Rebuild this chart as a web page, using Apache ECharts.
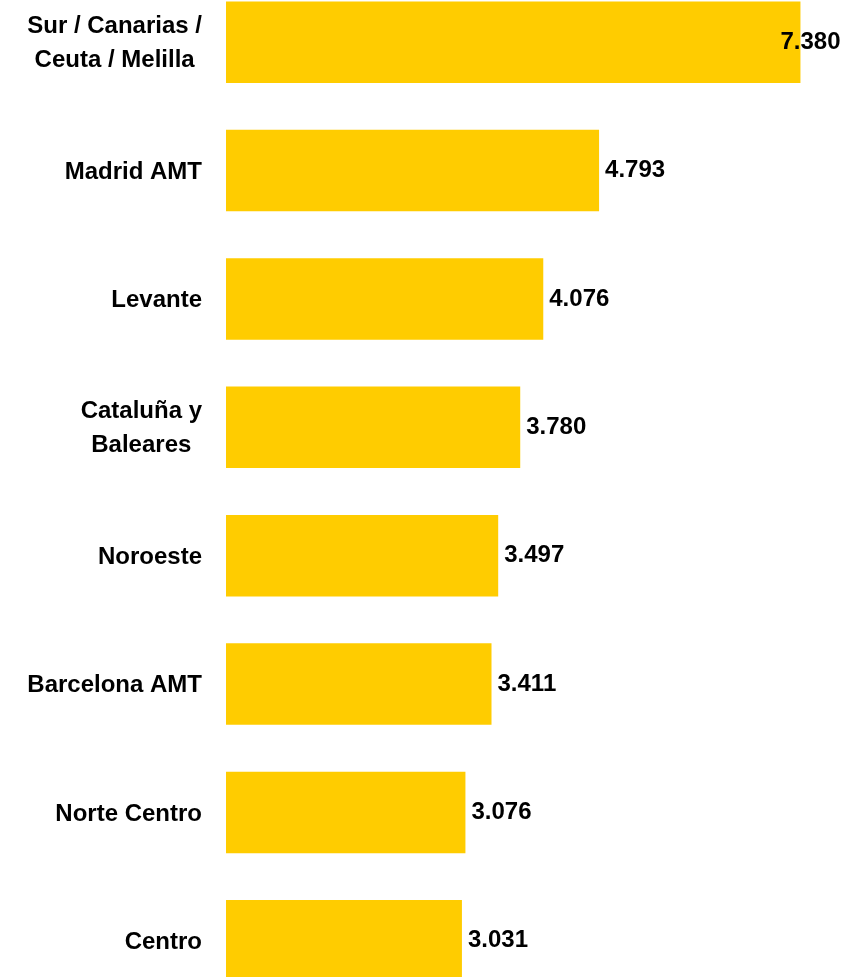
<!DOCTYPE html>
<html>
<head>
<meta charset="utf-8">
<script src="https://cdn.jsdelivr.net/npm/echarts@6/dist/echarts.min.js"></script>
<style>
  html, body { margin: 0; padding: 0; background: #ffffff; }
  #chart { width: 846px; height: 977px; }
</style>
</head>
<body>
<div id="chart"></div>
<script>
// Regions, top to bottom
const regions = [
  'Sur / Canarias /\nCeuta / Melilla',
  'Madrid AMT',
  'Levante',
  'Cataluña y\nBaleares',
  'Noroeste',
  'Barcelona AMT',
  'Norte Centro',
  'Centro'
];
// Value per region
const values = [7380, 4793, 4076, 3780, 3497, 3411, 3076, 3031];

const FONT = '"Liberation Sans", Arial, sans-serif';
const SIZE = 24;

// Spanish-style thousands separator: 7380 -> "7.380"
function fmt(v) {
  return String(v).replace(/\B(?=(\d{3})+(?!\d))/g, '.');
}

const chart = echarts.init(document.getElementById('chart'), null, { renderer: 'canvas' });

const seriesData = values.map(function (v, i) {
  const item = { value: v };
  if (i === 0) {
    // the longest bar's label is pulled back inside the canvas
    item.label = { offset: [-26, 0] };
  }
  return item;
});

chart.setOption({
  backgroundColor: '#ffffff',
  animation: false,
  grid: {
    left: 226, right: 44, top: -22, height: 1027,
    containLabel: false,
    outerBoundsMode: 'none'
  },
  xAxis: {
    type: 'value',
    min: 0,
    max: 7400,
    show: false
  },
  yAxis: {
    type: 'category',
    inverse: true,
    data: regions,
    axisLine: { show: false },
    axisTick: { show: false },
    splitLine: { show: false },
    axisLabel: {
      margin: 24,
      color: '#000000',
      fontFamily: FONT,
      fontSize: SIZE,
      fontWeight: 'bold',
      formatter: function (txt) {
        return txt.split('\n').map(function (l) { return '{c|' + l + '}'; }).join('\n');
      },
      rich: {
        c: {
          align: 'center',
          color: '#000000',
          fontFamily: FONT,
          fontSize: SIZE,
          fontWeight: 'bold',
          lineHeight: 34,
          padding: [3, 0, 0, 0]
        }
      }
    }
  },
  series: [{
    type: 'bar',
    data: seriesData,
    barCategoryGap: '36.5%',
    itemStyle: { color: '#FFCC00' },
    label: {
      show: true,
      position: 'right',
      distance: 6,
      color: '#000000',
      fontFamily: FONT,
      fontSize: SIZE,
      fontWeight: 'bold',
      formatter: function (p) { return fmt(p.value); }
    }
  }]
});
</script>
</body>
</html>
